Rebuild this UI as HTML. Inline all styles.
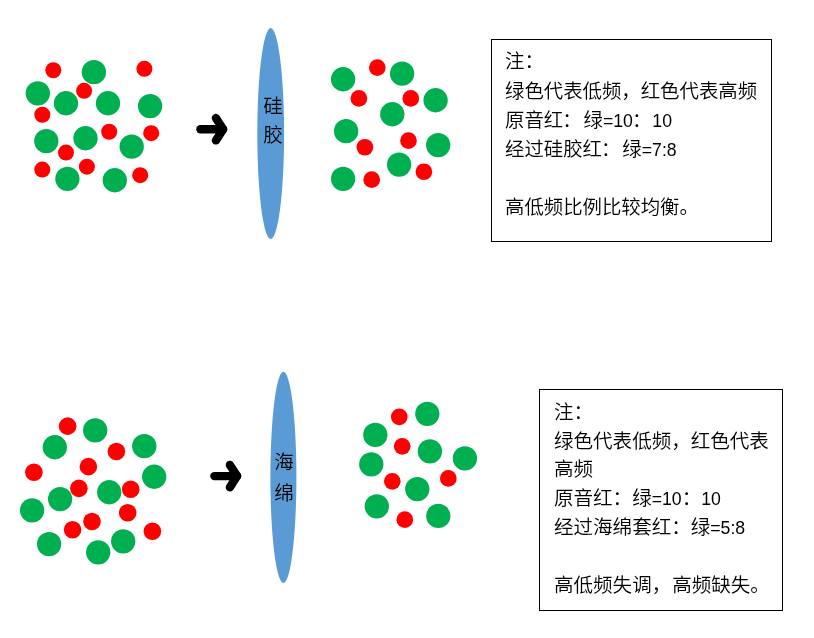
<!DOCTYPE html>
<html lang="zh-CN"><head><meta charset="utf-8"><title>硅胶 / 海绵</title>
<style>
html,body{margin:0;padding:0;background:#fff;}
body{width:814px;height:638px;position:relative;overflow:hidden;font-family:"Liberation Sans","Noto Sans CJK SC",sans-serif;color:#111;}
svg{position:absolute;left:0;top:0;display:block;}
.t{will-change:transform;position:absolute;white-space:nowrap;font-size:19.4px;line-height:29.2px;height:29.2px;font-weight:350;color:#000;}
.t2{font-size:19.55px;}
.l{font-size:17.7px;font-weight:400;}
.c{margin-left:-1px;margin-right:2px;}
.c2{margin-left:-1px;margin-right:1px;}
.m{margin-right:1px;}
.v{will-change:transform;position:absolute;font-size:19.5px;line-height:29.3px;width:28px;text-align:center;font-weight:350;color:#000;}
</style></head><body>
<svg width="814" height="638" viewBox="0 0 814 638">
<rect width="814" height="638" fill="#fff"/>
<circle cx="93.9" cy="72.15" r="12.15" fill="#00B050"/>
<circle cx="37.8" cy="93.35" r="12.15" fill="#00B050"/>
<circle cx="66.0" cy="103.25" r="12.15" fill="#00B050"/>
<circle cx="108.0" cy="103.25" r="12.15" fill="#00B050"/>
<circle cx="150.1" cy="106.05" r="12.15" fill="#00B050"/>
<circle cx="46.3" cy="141.05" r="12.15" fill="#00B050"/>
<circle cx="85.5" cy="138.25" r="12.15" fill="#00B050"/>
<circle cx="131.7" cy="146.65" r="12.15" fill="#00B050"/>
<circle cx="67.4" cy="178.85" r="12.15" fill="#00B050"/>
<circle cx="114.8" cy="180.25" r="12.15" fill="#00B050"/>
<circle cx="53.3" cy="70.25" r="8.0" fill="#FF0000"/>
<circle cx="144.4" cy="68.85" r="8.0" fill="#FF0000"/>
<circle cx="84.1" cy="90.85" r="8.0" fill="#FF0000"/>
<circle cx="42.3" cy="114.75" r="8.0" fill="#FF0000"/>
<circle cx="109.2" cy="131.75" r="8.0" fill="#FF0000"/>
<circle cx="151.2" cy="133.15" r="8.0" fill="#FF0000"/>
<circle cx="66.0" cy="152.55" r="8.0" fill="#FF0000"/>
<circle cx="42.3" cy="169.55" r="8.0" fill="#FF0000"/>
<circle cx="86.9" cy="166.65" r="8.0" fill="#FF0000"/>
<circle cx="140.2" cy="175.15" r="8.0" fill="#FF0000"/>
<circle cx="343.1" cy="79.25" r="12.15" fill="#00B050"/>
<circle cx="402.1" cy="73.65" r="12.15" fill="#00B050"/>
<circle cx="435.6" cy="100.25" r="12.15" fill="#00B050"/>
<circle cx="392.3" cy="114.25" r="12.15" fill="#00B050"/>
<circle cx="346.1" cy="131.15" r="12.15" fill="#00B050"/>
<circle cx="438.2" cy="145.05" r="12.15" fill="#00B050"/>
<circle cx="399.1" cy="164.55" r="12.15" fill="#00B050"/>
<circle cx="343.1" cy="178.85" r="12.15" fill="#00B050"/>
<circle cx="377.3" cy="67.55" r="8.35" fill="#FF0000"/>
<circle cx="358.9" cy="98.45" r="8.35" fill="#FF0000"/>
<circle cx="410.8" cy="98.45" r="8.35" fill="#FF0000"/>
<circle cx="364.9" cy="147.25" r="8.35" fill="#FF0000"/>
<circle cx="408.5" cy="140.55" r="8.35" fill="#FF0000"/>
<circle cx="423.9" cy="171.75" r="8.35" fill="#FF0000"/>
<circle cx="371.7" cy="179.65" r="8.35" fill="#FF0000"/>
<circle cx="95.2" cy="430.35" r="12.15" fill="#00B050"/>
<circle cx="54.8" cy="447.25" r="12.15" fill="#00B050"/>
<circle cx="144.3" cy="446.15" r="12.15" fill="#00B050"/>
<circle cx="154.2" cy="476.75" r="12.15" fill="#00B050"/>
<circle cx="109.2" cy="492.25" r="12.15" fill="#00B050"/>
<circle cx="60.1" cy="499.05" r="12.15" fill="#00B050"/>
<circle cx="32.1" cy="510.35" r="12.15" fill="#00B050"/>
<circle cx="49.1" cy="544.05" r="12.15" fill="#00B050"/>
<circle cx="123.2" cy="541.35" r="12.15" fill="#00B050"/>
<circle cx="98.2" cy="552.35" r="12.15" fill="#00B050"/>
<circle cx="67.6" cy="426.15" r="8.8" fill="#FF0000"/>
<circle cx="116.4" cy="451.45" r="8.8" fill="#FF0000"/>
<circle cx="88.4" cy="466.65" r="8.8" fill="#FF0000"/>
<circle cx="33.9" cy="472.25" r="8.8" fill="#FF0000"/>
<circle cx="78.9" cy="488.35" r="8.8" fill="#FF0000"/>
<circle cx="130.7" cy="489.25" r="8.8" fill="#FF0000"/>
<circle cx="127.7" cy="512.75" r="8.8" fill="#FF0000"/>
<circle cx="92.0" cy="521.45" r="8.8" fill="#FF0000"/>
<circle cx="72.6" cy="529.75" r="8.8" fill="#FF0000"/>
<circle cx="152.4" cy="531.25" r="8.8" fill="#FF0000"/>
<circle cx="427.3" cy="413.85" r="12.15" fill="#00B050"/>
<circle cx="375.3" cy="434.95" r="12.15" fill="#00B050"/>
<circle cx="429.9" cy="451.45" r="12.15" fill="#00B050"/>
<circle cx="464.9" cy="458.45" r="12.15" fill="#00B050"/>
<circle cx="371.3" cy="464.35" r="12.15" fill="#00B050"/>
<circle cx="417.3" cy="489.05" r="12.15" fill="#00B050"/>
<circle cx="376.8" cy="506.45" r="12.15" fill="#00B050"/>
<circle cx="438.3" cy="515.95" r="12.15" fill="#00B050"/>
<circle cx="399.3" cy="416.85" r="8.35" fill="#FF0000"/>
<circle cx="402.2" cy="446.35" r="8.35" fill="#FF0000"/>
<circle cx="392.3" cy="481.35" r="8.35" fill="#FF0000"/>
<circle cx="448.3" cy="478.45" r="8.35" fill="#FF0000"/>
<circle cx="404.8" cy="519.65" r="8.35" fill="#FF0000"/>
<g fill="none" stroke="#000" stroke-width="8.4" stroke-linecap="round" stroke-linejoin="round"><path d="M200.4,129.2 H223.1"/><path d="M215.9,118.0 L223.1,129.2 L215.9,140.4"/></g>
<g fill="none" stroke="#000" stroke-width="8.4" stroke-linecap="round" stroke-linejoin="round"><path d="M214.4,476.1 H237.1"/><path d="M229.9,464.9 L237.1,476.1 L229.9,487.3"/></g>
<ellipse cx="270.7" cy="133.6" rx="13.4" ry="105.5" fill="#5B9BD5"/>
<ellipse cx="283.4" cy="477.4" rx="13.0" ry="105.6" fill="#5B9BD5"/>
<rect x="491.5" y="39.5" width="280" height="202" fill="#fff" stroke="#000" stroke-width="1"/>
<rect x="539.5" y="389.5" width="243" height="221" fill="#fff" stroke="#000" stroke-width="1"/>
</svg>
<div class="v" style="left:259px;top:92px">硅</div>
<div class="v" style="left:259px;top:121.3px">胶</div>
<div class="v" style="left:269.6px;top:448.2px">海</div>
<div class="v" style="left:269.6px;top:478.8px">绵</div>
<div class="t" style="left:505px;top:47.2px">注：</div>
<div class="t" style="left:505px;top:76.7px">绿色代表低频，红色代表高频</div>
<div class="t" style="left:505px;top:105.9px">原音红<span class="c">：</span>绿<span class="l">=10</span><span class="c2">：</span><span class="l">10</span></div>
<div class="t" style="left:505px;top:135.4px">经过硅胶红<span class="c">：</span>绿<span class="l">=7:8</span></div>
<div class="t" style="left:505px;top:193.3px">高低频比例比较均衡。</div>
<div class="t t2" style="left:554px;top:397.8px">注：</div>
<div class="t t2" style="left:554px;top:426.6px">绿色代表低频，红色代表</div>
<div class="t t2" style="left:554px;top:455.4px">高频</div>
<div class="t t2" style="left:554px;top:484.2px">原音红：绿<span class="l">=10</span>：<span class="l">10</span></div>
<div class="t t2" style="left:554px;top:513.0px">经过海绵套红：绿<span class="l">=5:8</span></div>
<div class="t t2" style="left:554px;top:570.6px">高低频失调<span class="m">，</span>高频缺失。</div>
</body></html>
